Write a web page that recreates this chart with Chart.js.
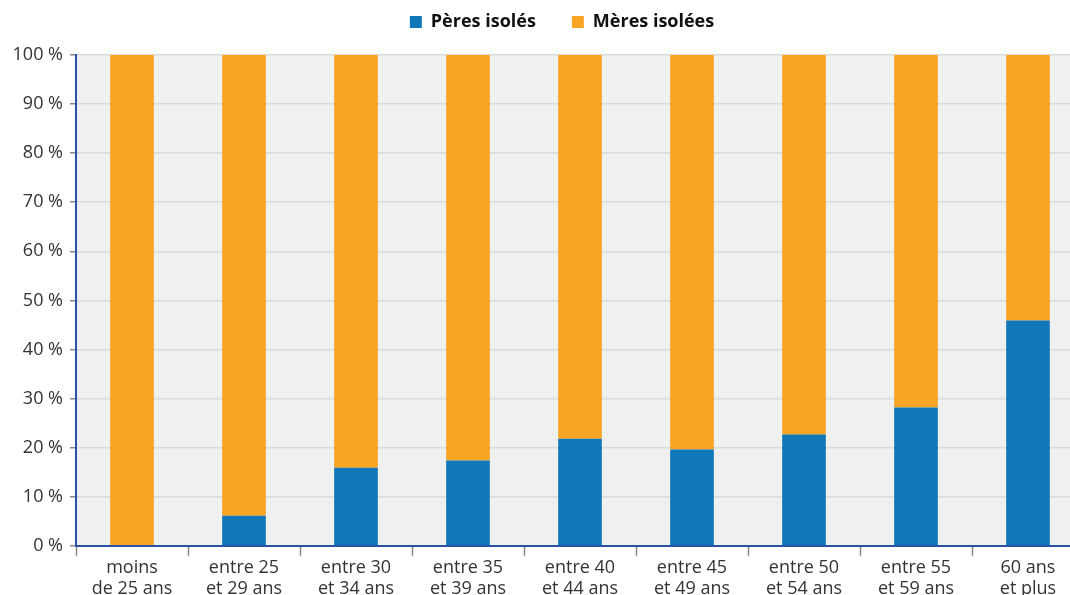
<!DOCTYPE html>
<html>
<head>
<meta charset="utf-8">
<script src="https://cdn.jsdelivr.net/npm/chart.js@4"></script>
<style>
  html, body { margin: 0; padding: 0; background: #fff; overflow: hidden; }
  canvas { display: block; }
</style>
</head>
<body>
<canvas id="myChart" width="1084" height="601"></canvas>
<script>
// age groups (two-line labels)
const categories = [
    ["moins", "de 25 ans"],
    ["entre 25", "et 29 ans"],
    ["entre 30", "et 34 ans"],
    ["entre 35", "et 39 ans"],
    ["entre 40", "et 44 ans"],
    ["entre 45", "et 49 ans"],
    ["entre 50", "et 54 ans"],
    ["entre 55", "et 59 ans"],
    ["60 ans", "et plus"]
];
const peres = [0, 6.1, 15.9, 17.4, 21.8, 19.6, 22.7, 28.2, 45.9];
const meres = [100, 93.9, 84.1, 82.6, 78.2, 80.4, 77.3, 71.8, 54.1];

const font = "'Open Sans', 'Noto Sans', sans-serif";

// grey plot background
const plotBg = {
    id: "plotBg",
    beforeDraw(chart) {
        const {ctx, chartArea: a} = chart;
        ctx.save();
        ctx.fillStyle = "#eff1f0";
        ctx.fillRect(a.left, a.top, a.right - a.left, a.bottom - a.top);
        ctx.restore();
    }
};

// legend: fixed height, then nudged up/right
const legendPos = {
    id: "legendPos",
    beforeInit(chart) {
        const fit = chart.legend.fit;
        chart.legend.fit = function() {
            fit.bind(chart.legend)();
            this.height = 55;
        };
    },
    afterLayout(chart) {
        const lg = chart.legend;
        lg.top -= 23; lg.bottom -= 23;
        lg.left += 20; lg.right += 20;
    }
};

new Chart(document.getElementById("myChart"), {
    type: "bar",
    data: {
        labels: categories,
        datasets: [
            {label: "Pères isolés", data: peres, backgroundColor: "#1077b9"},
            {label: "Mères isolées", data: meres, backgroundColor: "#f8a526"}
        ]
    },
    options: {
        responsive: false,
        animation: false,
        devicePixelRatio: 1,
        barPercentage: 0.39,
        categoryPercentage: 1,
        layout: {padding: 0},
        plugins: {
            tooltip: {enabled: false},
            legend: {
                position: "top",
                labels: {
                    boxWidth: 12,
                    boxHeight: 12,
                    padding: 36,
                    color: "#111",
                    font: {family: font, size: 18, weight: "bold"}
                }
            }
        },
        scales: {
            x: {
                stacked: true,
                offset: true,
                grid: {offset: true, drawOnChartArea: false, tickLength: 10, tickColor: "#888", tickWidth: 1.5},
                border: {color: "#2a52a8", width: 2},
                ticks: {color: "#333", padding: 1, maxRotation: 0, font: {family: font, size: 18}}
            },
            y: {
                stacked: true,
                min: 0,
                max: 100,
                afterFit: s => { s.width = 76; },
                grid: {color: "#dadcdb", lineWidth: 1.5, tickLength: 6, tickColor: "#888"},
                border: {color: "#2a52a8", width: 2},
                ticks: {
                    stepSize: 10,
                    color: "#333",
                    padding: 7,
                    font: {family: font, size: 18},
                    callback: v => v + " %"
                }
            }
        }
    },
    plugins: [plotBg, legendPos]
});
</script>
</body>
</html>
